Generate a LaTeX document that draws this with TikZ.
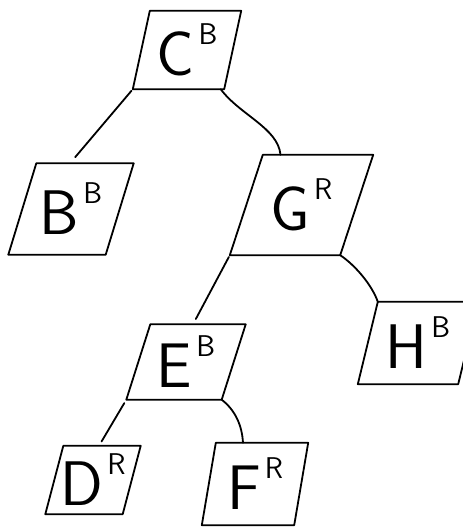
\documentclass[tikz,border=0pt]{standalone}
\newcommand\lab[2]{\fontsize{63}{63}\selectfont #1\hspace{4pt}\raisebox{31pt}{\fontsize{30}{30}\selectfont #2}}
\newcommand\pbox[2]{\draw[boxline] ([xshift=#2]#1.north west) -- ([xshift=#2]#1.north east) -- ([xshift=-#2]#1.south east) -- ([xshift=-#2]#1.south west) -- cycle;}
\begin{document}
\begin{tikzpicture}[x=1pt,y=-1pt,
  box/.style={inner sep=0pt, font=\sffamily},
  boxline/.style={line width=1.8pt, line join=round, line cap=round},
  link/.style={line width=1.8pt, line cap=round}]
\useasboundingbox (0,0) rectangle (463,530);
\node[box, minimum width=91pt, minimum height=78pt] (C) at (187,50) {\lab{C}{B}};
\node[box, minimum width=97pt, minimum height=91pt] (B) at (71,209) {\lab{B}{B}};
\node[box, minimum width=110pt, minimum height=100pt] (G) at (301.5,205) {\lab{G}{R}};
\node[box, minimum width=95pt, minimum height=75pt] (E) at (186,362) {\lab{E}{B}};
\node[box, minimum width=100pt, minimum height=82pt] (H) at (418,343) {\lab{H}{B}};
\node[box, minimum width=77pt, minimum height=68pt] (D) at (93,480) {\lab{D}{R}};
\node[box, minimum width=92pt, minimum height=82pt] (F) at (255,484) {\lab{F}{R}};
\pbox{C}{8.5pt}
\pbox{B}{14pt}
\pbox{G}{16.5pt}
\pbox{E}{12pt}
\pbox{H}{10pt}
\pbox{D}{9pt}
\pbox{F}{7pt}
\draw[link, shorten <=2pt, shorten >=8pt] ([xshift=-8.5pt]C.south west) -- ([xshift=-1pt]B.north);
\draw[link] ([xshift=-12pt]C.south east) .. controls (240,115) and (278,128) .. ([xshift=-21pt]G.north);
\draw[link, shorten <=2pt, shorten >=6pt] ([xshift=-16.5pt]G.south west) -- ([xshift=7pt]E.north);
\draw[link] ([xshift=-16.5pt]G.south east) .. controls (355,265) and (372,285) .. ([xshift=10pt]H.north west);
\draw[link, shorten <=4pt, shorten >=5pt] ([xshift=-12pt]E.south west) -- ([xshift=6pt]D.north);
\draw[link] ([xshift=-12pt]E.south east) .. controls (235,410) and (242,425) .. ([xshift=-12pt]F.north);
\end{tikzpicture}
\end{document}
